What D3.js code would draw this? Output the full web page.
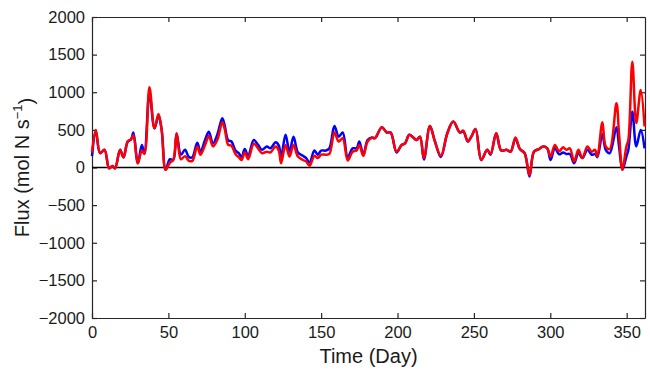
<!DOCTYPE html>
<html>
<head>
<meta charset="utf-8">
<script src="https://cdn.jsdelivr.net/npm/d3@7"></script>
<style>
  body { margin: 0; background: #fff; }
  text { font-family: Arial, "Liberation Sans", sans-serif; }
</style>
</head>
<body>
<script>
// days, with blue and red flux at each
let days = [0, 2.5, 5.3, 8.2, 11.2, 13.4, 15.1, 18.4, 20.6, 23.4, 25.6, 27.1, 30, 32.6, 34.3, 37.6, 40.9, 43.5, 45.6, 48.2,
  51, 53.2, 55.4, 58.2, 60.9, 63.5, 65.7, 68.9, 71, 74.4, 76.5, 79.2, 82, 85.3, 87, 89.2, 91.3, 93.9, 96.1, 97.9,
  100, 102.2, 105.9, 108.7, 111.3, 114.5, 116.7, 120.3, 122.3, 123.8, 126.7, 129.3, 131.9, 134.8, 138, 140.2, 142.4, 145.6, 147.8, 150,
  153.2, 155.4, 158.7, 161.5, 164.1, 167.4, 170.6, 173.2, 175, 177.6, 180.4, 183.3, 185.3, 189.7, 193, 195.5, 199.4, 202.7, 204.9, 207.7,
  210.3, 212.5, 214.7, 217.3, 221.2, 224.5, 228.4, 232.6, 236.5, 240.8, 243, 246.1, 248.3, 251.1, 254.8, 258.7, 260.9, 264.6, 267.9, 271.3,
  274, 277.2, 280.1, 283.2, 286.4, 289.3, 292.5, 295.4, 298, 300.2, 303, 305.8, 308.4, 310.5, 312.8, 315.6, 318.4, 321, 324.3, 327.1,
  329.3, 330.8, 334.1, 336.3, 338.9, 343.3, 345, 347.2, 349.8, 351.1, 353.7, 356.3, 359.2, 361.7];

let blueFlux = [150, 480, 190, 235, -10, 20, -10, 235, 135, 345, 375, 465, 55, 300, 190, 985, 520, 690, 500, -30,
  110, 100, 450, 170, 235, 137, 137, 330, 210, 390, 475, 320, 435, 655, 545, 360, 345, 225, 190, 137,
  245, 155, 365, 300, 235, 280, 255, 335, 290, 137, 435, 210, 410, 200, 155, 125, 66, 225, 170, 225,
  225, 255, 550, 410, 465, 137, 255, 255, 345, 170, 365, 400, 390, 535, 465, 465, 200, 300, 320, 435,
  400, 365, 410, 105, 550, 345, 140, 455, 610, 465, 480, 345, 410, 510, 100, 235, 170, 455, 225, 235,
  210, 380, 245, 190, -120, 210, 245, 280, 255, 100, 260, 175, 200, 180, 180, 57, 190, 125, 235, 170,
  180, 137, 445, 235, 190, 535, 280, -30, 145, 234, 740, 280, 500, 255];

let redFlux = [200, 500, 190, 235, -10, 20, -10, 235, 135, 345, 375, 430, 55, 225, 180, 1065, 520, 710, 500, -30,
  65, 100, 455, 110, 150, 88, 88, 280, 170, 320, 420, 280, 365, 600, 500, 300, 290, 180, 137, 100,
  200, 110, 315, 255, 190, 210, 200, 280, 222, 57, 300, 145, 300, 145, 100, 80, 22, 155, 125, 170,
  170, 180, 465, 345, 390, 93, 210, 225, 300, 155, 345, 395, 390, 535, 465, 465, 210, 300, 320, 435,
  400, 365, 410, 125, 550, 345, 155, 455, 610, 465, 490, 345, 410, 510, 100, 235, 180, 455, 225, 235,
  210, 400, 245, 190, -100, 210, 245, 280, 255, 145, 300, 215, 270, 235, 255, 80, 235, 125, 280, 210,
  235, 145, 600, 280, 245, 855, 455, -30, 280, 367, 1405, 590, 1030, 545];

let xTicks = [0, 50, 100, 150, 200, 250, 300, 350];
let yTicks = [-2000, -1500, -1000, -500, 0, 500, 1000, 1500, 2000];

let width = 650, height = 373;
let margin = {top: 17, bottom: 55, left: 92, right: 5};

let svg = d3.select('body').append('svg').attr('width', width).attr('height', height);

let xScale = d3.scaleLinear().domain([0, 362]).range([margin.left, width - margin.right]);
let yScale = d3.scaleLinear().domain([-2000, 2000]).range([height - margin.bottom, margin.top]);

let tickLen = 5;
let fmt = d3.format('d');

// bottom and left axes with labels, ticks pointing inward
let xAxis = svg.append('g').attr('transform', `translate(0,${height - margin.bottom})`)
  .call(d3.axisBottom(xScale).tickValues(xTicks).tickFormat(fmt).tickSizeInner(-tickLen).tickSizeOuter(0).tickPadding(7));
let yAxis = svg.append('g').attr('transform', `translate(${margin.left},0)`)
  .call(d3.axisLeft(yScale).tickValues(yTicks).tickFormat(d => fmt(d).replace('-', '\u2212'))
    .tickSizeInner(-tickLen).tickSizeOuter(0).tickPadding(7));

// top and right axes, ticks only
svg.append('g').attr('transform', `translate(0,${margin.top})`)
  .call(d3.axisTop(xScale).tickValues(xTicks).tickSizeInner(-tickLen).tickSizeOuter(0).tickFormat(''));
svg.append('g').attr('transform', `translate(${width - margin.right},0)`)
  .call(d3.axisRight(yScale).tickValues(yTicks).tickSizeInner(-tickLen).tickSizeOuter(0).tickFormat(''));

svg.selectAll('.domain').attr('stroke', '#262626').attr('stroke-width', 1.2);
svg.selectAll('.tick line').attr('stroke', '#262626').attr('stroke-width', 1.2);
svg.selectAll('.tick text').attr('fill', '#1a1a1a').style('font-size', '16.5px')
  .style('font-family', 'Arial, "Liberation Sans", sans-serif');
xAxis.selectAll('.tick text').attr('dy', '0.78em');

// zero line
svg.append('line')
  .attr('x1', xScale(0)).attr('x2', xScale(362))
  .attr('y1', yScale(0)).attr('y2', yScale(0))
  .attr('stroke', '#000').attr('stroke-width', 1.3);

let line = vals => d3.line()
  .x((d, i) => xScale(days[i]))
  .y(d => yScale(d))
  .curve(d3.curveCatmullRom.alpha(0.5))(vals);

svg.append('path').attr('d', line(blueFlux))
  .attr('fill', 'none').attr('stroke', '#0000ff').attr('stroke-width', 2.5).attr('stroke-linejoin', 'round');
svg.append('path').attr('d', line(redFlux))
  .attr('fill', 'none').attr('stroke', '#ff0000').attr('stroke-width', 2.5).attr('stroke-linejoin', 'round');

// axis titles
svg.append('text').attr('x', (margin.left + width - margin.right) / 2).attr('y', 363)
  .text('Time (Day)').style('text-anchor', 'middle').style('font-size', '20px').attr('fill', '#1a1a1a');

let yLabel = svg.append('text')
  .attr('transform', `translate(29,${(margin.top + height - margin.bottom) / 2}) rotate(-90)`)
  .style('text-anchor', 'middle').style('font-size', '20px').attr('fill', '#1a1a1a');
yLabel.append('tspan').text('Flux (mol N s');
yLabel.append('tspan').text('\u22121').attr('dy', '-0.55em').style('font-size', '13px');
yLabel.append('tspan').text(')').attr('dy', '0.55em');
</script>
</body>
</html>
